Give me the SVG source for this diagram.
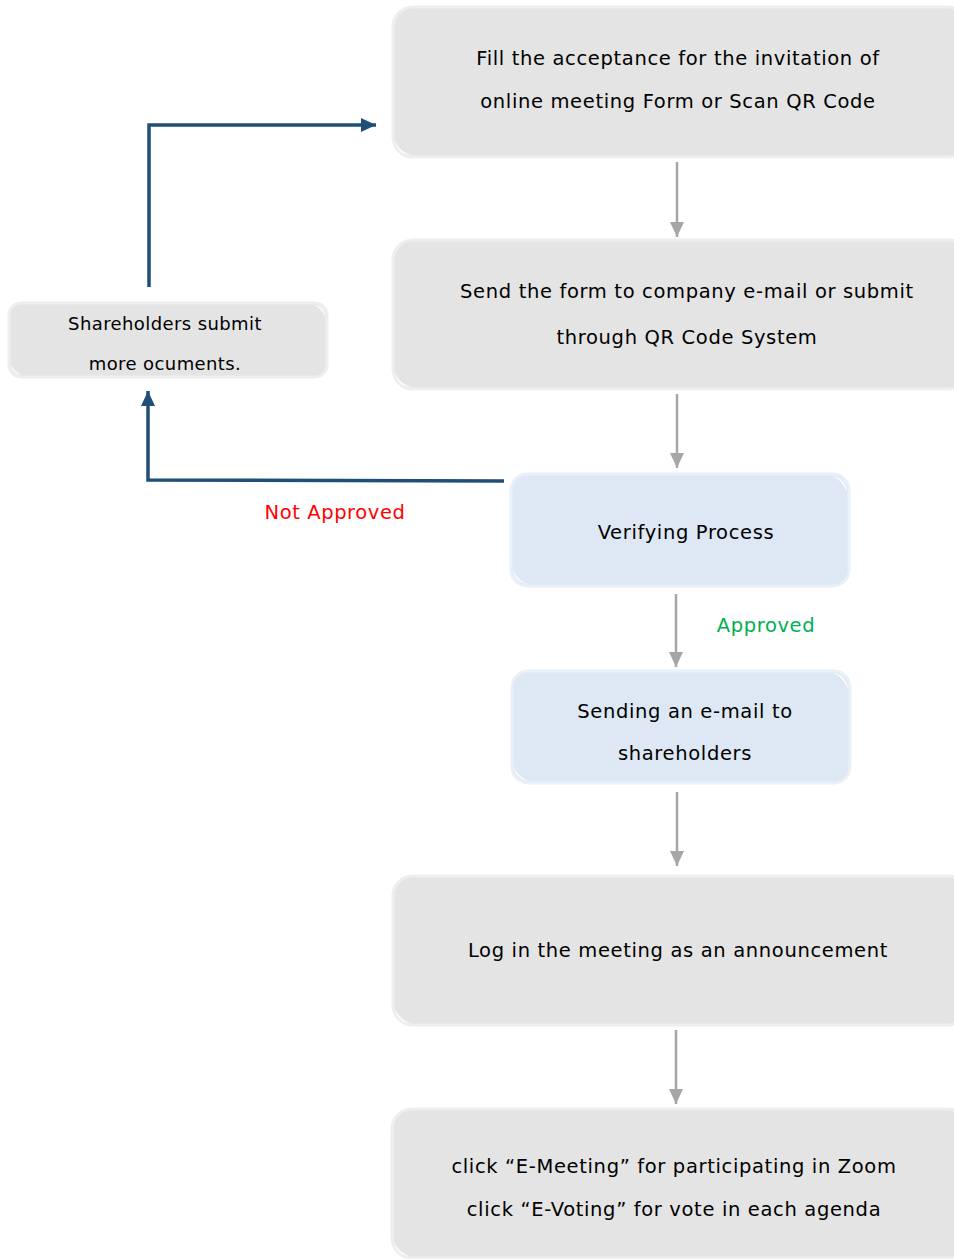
<svg xmlns="http://www.w3.org/2000/svg" width="954" height="1259" viewBox="0 0 954 1259">
<defs>
<style>
.g{fill:#e4e4e4;stroke:#eeeeee;stroke-width:3}
.b{fill:#dde8f4;stroke:#e8f0f9;stroke-width:3}
.t{font-family:"DejaVu Sans","Liberation Sans",sans-serif;font-size:19.5px;letter-spacing:0.65px;fill:#000;text-anchor:middle}
.ts{font-family:"DejaVu Sans","Liberation Sans",sans-serif;font-size:18px;letter-spacing:0.4px;fill:#000;text-anchor:middle}
.lbl{font-family:"DejaVu Sans","Liberation Sans",sans-serif;font-size:19.5px;letter-spacing:0.6px;text-anchor:middle}
.gr{stroke:#a6a6a6;stroke-width:2.5;fill:none}
.bl{stroke:#1f4e79;stroke-width:3.5;fill:none}
.hl{fill:#ffffff;opacity:0.85}
</style>
<marker id="ag" markerWidth="16" markerHeight="16" viewBox="0 0 16 16" refX="15" refY="8" orient="auto" markerUnits="userSpaceOnUse"><path d="M0,1 L15,8 L0,15 Z" fill="#a6a6a6"/></marker>
<marker id="ab" markerWidth="16" markerHeight="16" viewBox="0 0 16 16" refX="15" refY="8" orient="auto" markerUnits="userSpaceOnUse"><path d="M0,1 L15,8 L0,15 Z" fill="#1f4e79"/></marker>
</defs>
<rect width="954" height="1259" fill="#fff"/>
<g id="n1"><rect class="g" x="393" y="7" width="576" height="150" rx="20"/><path class="hl" d="M395,140 Q397,154 410,155 Q398,150 395,140 Z"/><text class="t" x="678" y="65">Fill the acceptance for the invitation of</text><text class="t" x="678" y="108">online meeting Form or Scan QR Code</text></g>
<g id="n2"><rect class="g" x="393" y="240" width="576" height="149" rx="20"/><path class="hl" d="M395,372 Q397,386 410,387 Q398,382 395,372 Z"/><text class="t" x="687" y="298">Send the form to company e-mail or submit</text><text class="t" x="687" y="344">through QR Code System</text></g>
<g id="n3"><rect class="b" x="511" y="474" width="338" height="112" rx="16"/><path class="hl" d="M832,476 Q846,478 847,492 Q842,480 832,476 Z"/><path class="hl" d="M513,570 Q515,583 528,584 Q517,580 513,570 Z"/><text class="t" x="686" y="539">Verifying Process</text></g>
<g id="n4"><rect class="b" x="512" y="671" width="338" height="112" rx="16"/><path class="hl" d="M833,673 Q847,675 848,689 Q843,677 833,673 Z"/><path class="hl" d="M514,767 Q516,780 529,781 Q518,777 514,767 Z"/><text class="t" x="685" y="718">Sending an e-mail to</text><text class="t" x="685" y="760">shareholders</text></g>
<g id="n5"><rect class="g" x="393" y="876" width="576" height="149" rx="20"/><path class="hl" d="M395,1008 Q397,1022 410,1023 Q398,1018 395,1008 Z"/><text class="t" x="678" y="957">Log in the meeting as an announcement</text></g>
<g id="n6"><rect class="g" x="392" y="1109" width="576" height="149" rx="20"/><path class="hl" d="M394,1241 Q396,1255 409,1256 Q397,1251 394,1241 Z"/><text class="t" x="674" y="1173">click “E-Meeting” for participating in Zoom</text><text class="t" x="674" y="1216">click “E-Voting” for vote in each agenda</text></g>
<g id="n7"><rect class="g" x="9" y="303" width="318" height="74" rx="12"/><path class="hl" d="M314,305 Q325,306 325,317 Q321,308 314,305 Z"/><path class="hl" d="M11,364 Q12,375 22,375 Q14,372 11,364 Z"/><text class="ts" x="165" y="330">Shareholders submit</text><text class="ts" x="165" y="370">more ocuments.</text></g>
<g id="connectors">
<line class="gr" x1="677" y1="162" x2="677" y2="237" marker-end="url(#ag)"/>
<line class="gr" x1="677" y1="394" x2="677" y2="468" marker-end="url(#ag)"/>
<line class="gr" x1="676" y1="594" x2="676" y2="667" marker-end="url(#ag)"/>
<line class="gr" x1="677" y1="792" x2="677" y2="866" marker-end="url(#ag)"/>
<line class="gr" x1="676" y1="1030" x2="676" y2="1104" marker-end="url(#ag)"/>
<polyline class="bl" points="504,481 148,480 148,391" marker-end="url(#ab)"/>
<polyline class="bl" points="149,287 149,125 376,125" marker-end="url(#ab)"/>
<text class="lbl" x="335" y="519" fill="#ff0000">Not Approved</text>
<text class="lbl" x="766" y="632" fill="#00b050">Approved</text>
</g>
</svg>
